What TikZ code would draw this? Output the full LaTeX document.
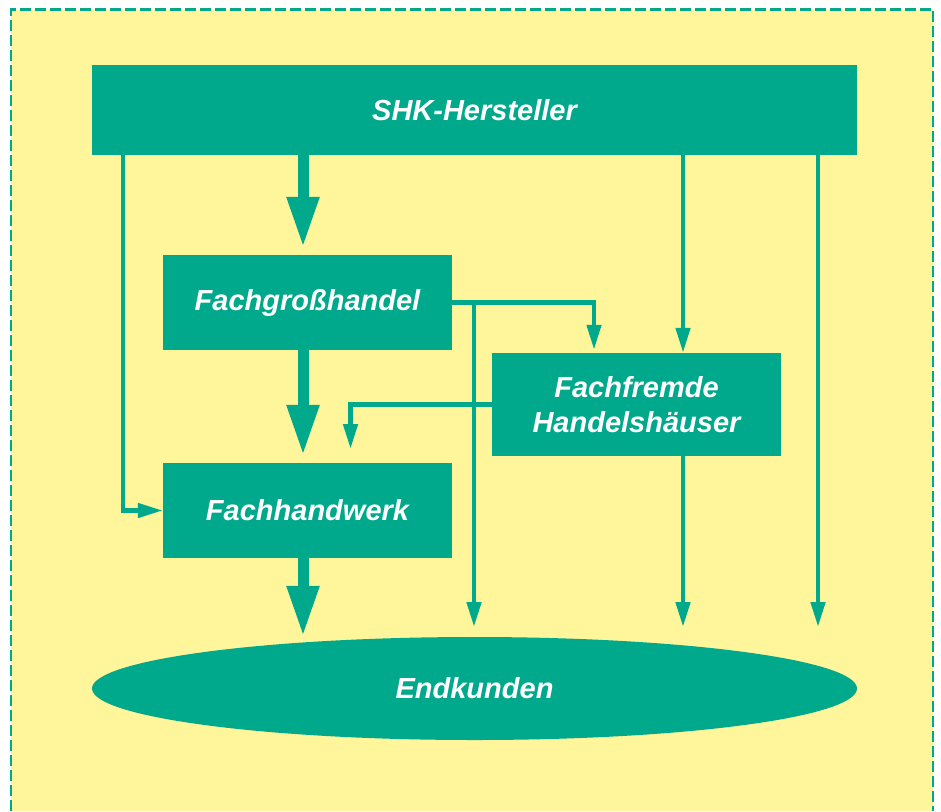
\documentclass[tikz,border=0pt]{standalone}
\usepackage{fontspec}
\setmainfont{Liberation Sans}
\usetikzlibrary{arrows.meta,shapes.geometric,positioning}
\definecolor{shkgreen}{RGB}{0,168,140}
\definecolor{shkyellow}{RGB}{255,245,155}
\newcommand{\lblfont}{\fontsize{29}{35}\selectfont\bfseries\itshape}

\begin{document}
\begin{tikzpicture}
[
x=1pt, y=-1pt,
wide/.style={rectangle, fill=shkgreen, text=white, font=\lblfont, inner sep=0, minimum width=765pt, minimum height=90pt},
trade/.style={rectangle, fill=shkgreen, text=white, font=\lblfont, inner sep=0, minimum width=289pt, minimum height=95pt, align=center},
customer/.style={ellipse, fill=shkgreen, text=white, font=\lblfont, inner sep=0, minimum width=765pt, minimum height=103pt},
bigflow/.style={draw=shkgreen, line width=11pt, -{Triangle[width=30pt,length=51pt]}},
flow/.style={draw=shkgreen, line width=4.5pt, -{Triangle[width=14pt,length=25pt]}},
frame/.style={draw=shkgreen, line width=2.5pt, dash pattern=on 11pt off 4pt}
]
\useasboundingbox (0,0) rectangle (941,811);
\fill[shkyellow] (11,9.5) rectangle (933,811);
\draw[frame] (11,811) -- (11,9.5) -- (933,9.5) -- (933,811);

%Nodes
\node[wide]     (shk)   at (474.5,110)      {SHK-Hersteller};
\node[trade]    (fgh)   at (307.5,302.5)    {Fachgroßhandel};
\node[trade, minimum height=103pt]    (ffh)   at (636.5,404.5)    {Fachfremde\\Handelshäuser};
\node[trade]    (fhw)   at (307.5,510.5)    {Fachhandwerk};
\node[customer] (end)   at (474.5,688.5)    {Endkunden};

\coordinate (bendfhw)  at (123,510.5);
\coordinate (bendffh)  at (594,303);
\coordinate (split)    at (474,303);
\coordinate (endtop)   at (474,627);
\coordinate (rgt)      at (683,627);
\coordinate (outer)    at (818,627);
\coordinate (bendback) at (350.5,449);

%Lines
\draw[bigflow] ([xshift=-4.5pt]fgh.north |- shk.south) -- ([xshift=-4.5pt,yshift=7pt]fgh.north);
\draw[bigflow] ([xshift=-4.5pt]fgh.south) -- ([xshift=-4.5pt,yshift=7pt]fhw.north);
\draw[bigflow] ([xshift=-4.5pt]fhw.south) -- ([xshift=-4.5pt]fhw.south |- end.north);

\draw[flow] (bendfhw |- shk.south) |- (fhw.west);
\draw[flow] (fgh.east) -| ([yshift=3pt]ffh.north -| bendffh);
\draw[flow] (split) -- (endtop);
\draw[flow] (rgt |- shk.south) -- (rgt |- ffh.north);
\draw[flow] (rgt |- ffh.south) -- (rgt);
\draw[flow] (outer |- shk.south) -- (outer);
\draw[flow] (ffh.west) -| (bendback);

\end{tikzpicture}
\end{document}
